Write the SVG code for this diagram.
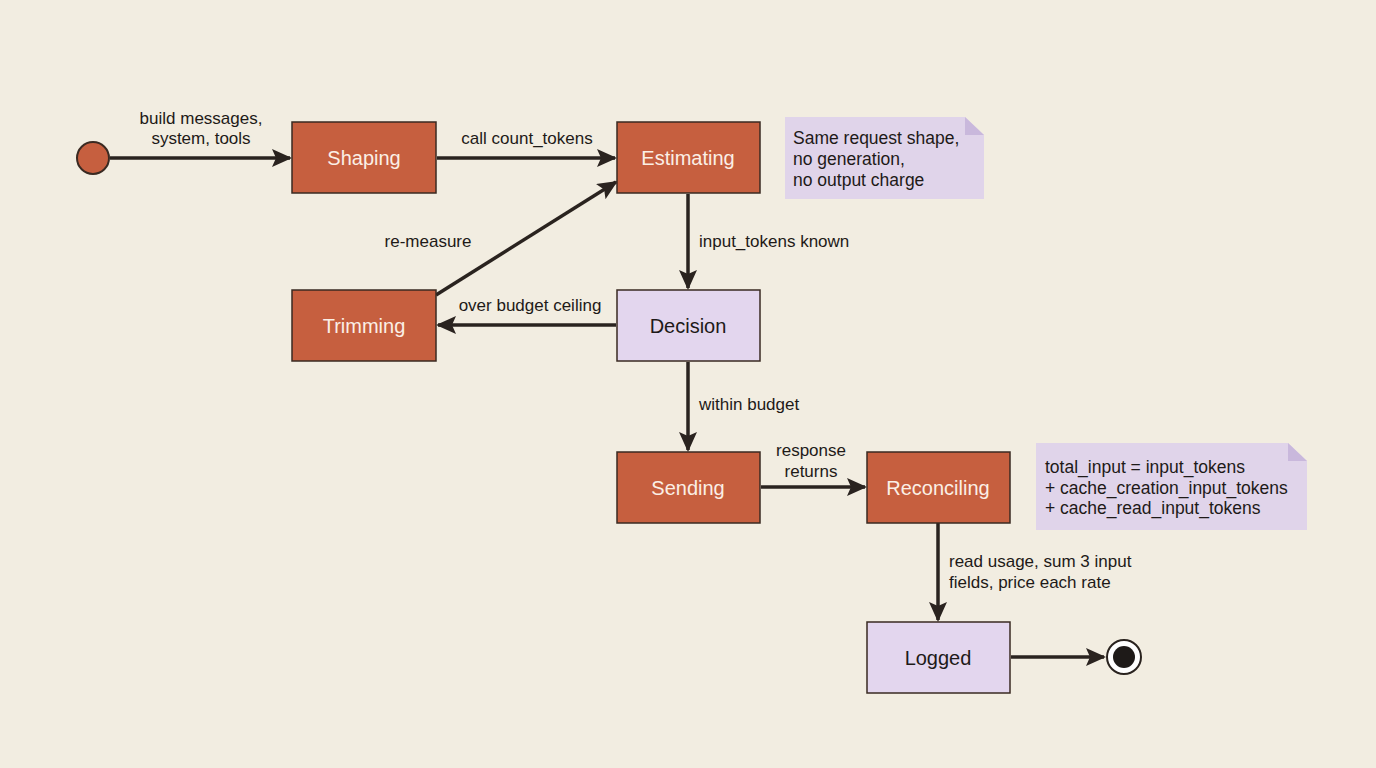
<svg xmlns="http://www.w3.org/2000/svg" width="1376" height="768" viewBox="0 0 1376 768">
<style>
text{font-family:"Liberation Sans",Arial,sans-serif;}
.a{fill:#c65f3f;stroke:#3a2a22;stroke-width:1.5}
.p{fill:#e3d6ee;stroke:#3a2a22;stroke-width:1.5}
.wt{fill:#fbefe6;font-size:20px;text-anchor:middle}
.bt{fill:#1e1a18;font-size:20px;text-anchor:middle}
.lb{fill:#1e1a18;font-size:17px}
.c{stroke:#2a231f;stroke-width:3.5;fill:none;marker-end:url(#ah)}
.n{fill:#e0d4ea}
.nt{fill:#1e1a18;font-size:17.5px}
</style>
<defs><marker id="ah" markerWidth="8" markerHeight="8" refX="7" refY="4" orient="auto" markerUnits="userSpaceOnUse" viewBox="0 0 8 8"><path d="M0,0 L8,4 L0,8 z" fill="#2a231f"/></marker>
<marker id="ah2" markerWidth="20" markerHeight="18" refX="18" refY="9" orient="auto" markerUnits="userSpaceOnUse"><path d="M0,0 L20,9 L0,18 L4,9 z" fill="#2a231f"/></marker></defs>
<rect width="1376" height="768" fill="#f2ede1"/>
<g id="connectors" style="stroke:#2a231f;stroke-width:3.5;fill:none">
<path d="M110,158 H290" marker-end="url(#ah2)"/>
<path d="M437,158 H615" marker-end="url(#ah2)"/>
<path d="M688,194 V288" marker-end="url(#ah2)"/>
<path d="M616,325 H438" marker-end="url(#ah2)"/>
<path d="M436,295 L616,182" marker-end="url(#ah2)"/>
<path d="M688,362 V450" marker-end="url(#ah2)"/>
<path d="M761,487 H865" marker-end="url(#ah2)"/>
<path d="M938,523 V620" marker-end="url(#ah2)"/>
<path d="M1011,657 H1104" marker-end="url(#ah2)"/>
</g>
<g id="labels">
<text class="lb" x="201" y="124" text-anchor="middle">build messages,</text>
<text class="lb" x="201" y="144" text-anchor="middle">system, tools</text>
<text class="lb" x="527" y="144" text-anchor="middle">call count_tokens</text>
<text class="lb" x="699" y="247">input_tokens known</text>
<text class="lb" x="530" y="311" text-anchor="middle">over budget ceiling</text>
<text class="lb" x="428" y="247" text-anchor="middle">re-measure</text>
<text class="lb" x="699" y="410">within budget</text>
<text class="lb" x="811" y="456" text-anchor="middle">response</text>
<text class="lb" x="811" y="477" text-anchor="middle">returns</text>
<text class="lb" x="949" y="567">read usage, sum 3 input</text>
<text class="lb" x="949" y="588">fields, price each rate</text>
</g>
<g id="start"><circle cx="93" cy="158" r="16" fill="#c65f3f" stroke="#3a2a22" stroke-width="2"/></g>
<g id="shaping"><rect class="a" x="292" y="122" width="144" height="71"/><text class="wt" x="364" y="165">Shaping</text></g>
<g id="estimating"><rect class="a" x="617" y="122" width="143" height="71"/><text class="wt" x="688" y="165">Estimating</text></g>
<g id="trimming"><rect class="a" x="292" y="290" width="144" height="71"/><text class="wt" x="364" y="333">Trimming</text></g>
<g id="decision"><rect class="p" x="617" y="290" width="143" height="71"/><text class="bt" x="688" y="333">Decision</text></g>
<g id="sending"><rect class="a" x="617" y="452" width="143" height="71"/><text class="wt" x="688" y="495">Sending</text></g>
<g id="reconciling"><rect class="a" x="867" y="452" width="143" height="71"/><text class="wt" x="938" y="495">Reconciling</text></g>
<g id="logged"><rect class="p" x="867" y="622" width="143" height="71"/><text class="bt" x="938" y="665">Logged</text></g>
<g id="end"><circle cx="1124" cy="657" r="17" fill="#fff" stroke="#2a231f" stroke-width="2"/><circle cx="1124" cy="657" r="11" fill="#1e1a18"/></g>
<g id="note1"><path class="n" d="M785,117 H965 L984,135 V199 H785 Z"/><path d="M965,117 L984,135 H965 Z" fill="#c9b8dc"/>
<text class="nt" x="793" y="144">Same request shape,</text><text class="nt" x="793" y="165">no generation,</text><text class="nt" x="793" y="186">no output charge</text></g>
<g id="note2"><path class="n" d="M1036,443 H1288 L1307,461 V530 H1036 Z"/><path d="M1288,443 L1307,461 H1288 Z" fill="#c9b8dc"/>
<text class="nt" x="1045" y="473">total_input = input_tokens</text><text class="nt" x="1045" y="494">+ cache_creation_input_tokens</text><text class="nt" x="1045" y="514">+ cache_read_input_tokens</text></g>
</svg>
